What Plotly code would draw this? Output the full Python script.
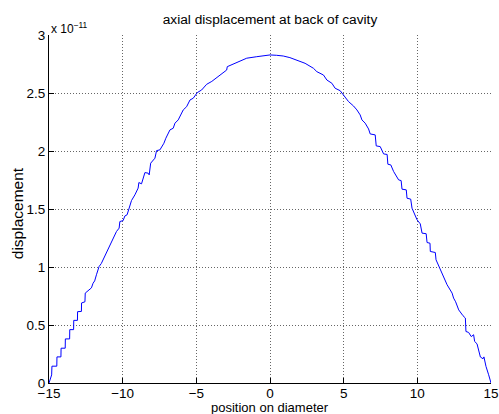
import plotly.graph_objects as go

# position on diameter (x) and axial displacement (in units of 1e-11)
position = [
    -15.00, -14.82, -14.80, -14.47, -14.46, -14.19, -14.18, -13.90, -13.89, -13.60,
    -13.59, -13.33, -13.32, -13.07, -13.06, -12.80, -12.79, -12.56, -12.54, -12.40,
    -12.30, -12.12, -12.01, -11.90, -11.78, -11.60, -11.45, -11.33, -11.20, -11.10,
    -10.87, -10.65, -10.42, -10.24, -10.19, -9.97, -9.85, -9.70, -9.56, -9.40,
    -9.17, -8.95, -8.90, -8.72, -8.49, -8.27, -8.20, -8.10, -7.81, -7.70,
    -7.47, -7.20, -7.07, -6.79, -6.57, -6.45, -6.23, -5.89, -5.66, -5.43,
    -5.21, -4.94, -4.64, -4.30, -3.95, -3.62, -3.25, -2.94, -2.90, -2.49,
    -2.04, -1.58, -0.90, -0.40, 0.00, 0.45, 0.90, 1.35, 1.82, 2.38,
    2.95, 3.18, 3.63, 3.86, 4.20, 4.42, 4.76, 4.99, 5.33, 5.67,
    5.90, 6.12, 6.24, 6.46, 6.69, 6.80, 7.14, 7.21, 7.48, 7.71,
    7.95, 8.00, 8.20, 8.39, 8.73, 8.90, 8.96, 9.25, 9.30, 9.55,
    9.64, 9.98, 10.20, 10.32, 10.60, 10.66, 10.86, 10.88, 11.22, 11.27,
    11.56, 11.78, 12.02, 12.36, 12.46, 12.60, 12.81, 13.10, 13.26, 13.30,
    13.48, 13.66, 13.82, 13.89, 14.05, 14.28, 14.46, 14.52, 14.66, 14.84,
    15.00,
]
displacement = [
    0.000, 0.070, 0.145, 0.145, 0.225, 0.225, 0.300, 0.300, 0.380, 0.380,
    0.460, 0.460, 0.540, 0.540, 0.615, 0.617, 0.690, 0.700, 0.775, 0.790,
    0.800, 0.820, 0.860, 0.880, 0.933, 1.004, 1.030, 1.062, 1.100, 1.133,
    1.190, 1.249, 1.306, 1.335, 1.392, 1.400, 1.440, 1.450, 1.499, 1.573,
    1.622, 1.680, 1.728, 1.717, 1.814, 1.809, 1.794, 1.895, 1.938, 2.003,
    2.010, 2.067, 2.110, 2.182, 2.196, 2.240, 2.268, 2.354, 2.382, 2.440,
    2.455, 2.503, 2.526, 2.575, 2.600, 2.630, 2.665, 2.698, 2.727, 2.750,
    2.776, 2.800, 2.813, 2.824, 2.828, 2.825, 2.819, 2.805, 2.785, 2.756,
    2.713, 2.684, 2.655, 2.612, 2.584, 2.541, 2.520, 2.483, 2.426, 2.388,
    2.354, 2.311, 2.268, 2.240, 2.190, 2.147, 2.139, 2.044, 2.038, 1.975,
    1.970, 1.886, 1.880, 1.823, 1.751, 1.745, 1.671, 1.665, 1.593, 1.585,
    1.507, 1.407, 1.372, 1.292, 1.287, 1.211, 1.205, 1.134, 1.125, 1.062,
    0.976, 0.918, 0.847, 0.775, 0.732, 0.700, 0.630, 0.580, 0.560, 0.444,
    0.436, 0.400, 0.416, 0.358, 0.338, 0.224, 0.209, 0.225, 0.143, 0.071,
    0.000,
]

x_ticks = [-15, -10, -5, 0, 5, 10, 15]
y_ticks = [0, 0.5, 1, 1.5, 2, 2.5, 3]
y_tick_labels = ["0", "0.5", "1", "1.5", "2", "2.5", "3"]

FONT = "Liberation Sans, Arial, Helvetica, sans-serif"

fig = go.Figure()
fig.add_trace(go.Scatter(
    x=position, y=displacement, mode="lines",
    line=dict(color="#0000ff", width=1), hoverinfo="skip", showlegend=False,
))

axis_common = dict(
    showline=True, linecolor="black", linewidth=1,
    ticks="inside", ticklen=5, tickwidth=1, tickcolor="black",
    showgrid=True, gridcolor="rgba(0,0,0,0.6)", gridwidth=1, griddash="1px,2px",
    zeroline=False, tickfont=dict(family=FONT, size=13.5, color="black"),
    mirror=False,
)

fig.update_xaxes(range=[-15, 15], tickvals=x_ticks, ticklabelstandoff=-2, **axis_common)
fig.update_yaxes(range=[0, 3], tickvals=y_ticks, ticktext=y_tick_labels, **axis_common)

fig.update_layout(
    width=499, height=414,
    margin=dict(l=49, r=8, t=35, b=31, autoexpand=False),
    paper_bgcolor="white", plot_bgcolor="white",
    font=dict(family=FONT, color="black"),
    title=dict(text="axial displacement at back of cavity", x=0.5, xanchor="center",
               xref="paper", y=1 - 19.5 / 414, yref="container", yanchor="middle",
               font=dict(family=FONT, size=13.7, color="black")),
    annotations=[
        dict(text="x 10<sup>\u221211</sup>", xref="paper", yref="paper", x=0, y=1,
             xanchor="left", yanchor="bottom", yshift=-3, showarrow=False,
             font=dict(family=FONT, size=12, color="black")),
        dict(text="displacement", xref="paper", yref="paper", x=(17.2 - 49) / 442,
             y=(383 - 213) / 348, xanchor="center", yanchor="middle", textangle=-90,
             showarrow=False, font=dict(family=FONT, size=15.5, color="black")),
        dict(text="position on diameter", xref="paper", yref="paper", x=0.5,
             y=(383 - 407.3) / 348, xanchor="center", yanchor="middle",
             showarrow=False, font=dict(family=FONT, size=13, color="black")),
    ],
)

fig.write_html("out.html")
